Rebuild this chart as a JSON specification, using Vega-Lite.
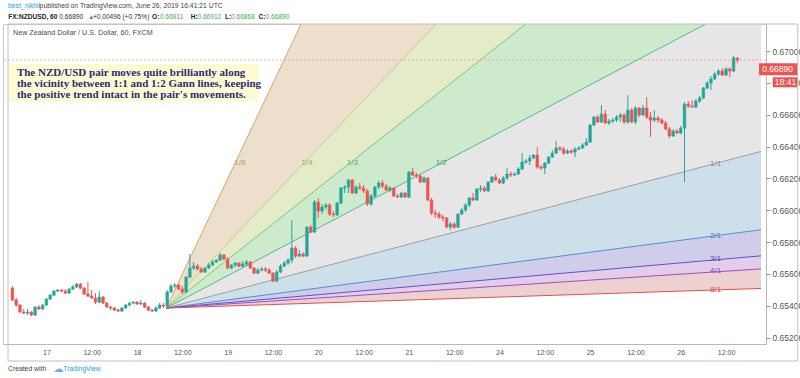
{
"$schema": "https://vega.github.io/schema/vega-lite/v6.json",
"width": 763, "height": 320,
"autosize": "none",
"padding": {"left": 3, "top": 24, "right": 34, "bottom": 34},
"background": "white",
"config": {"view": {"stroke": "#c8c8c8"}, "text": {"font": "Liberation Sans"}, "axisY": {"labelOverlap": false, "labelFlush": false}, "axisX": {"labelOverlap": false, "labelFlush": false}},
"resolve": {"scale": {"color": "independent"}},
"datasets": {
"candles": [
{"t":-9,"open":0.65511,"high":0.65524,"low":0.65430,"close":0.65436},
{"t":-8,"open":0.65436,"high":0.65449,"low":0.65392,"close":0.65405},
{"t":-7,"open":0.65405,"high":0.65411,"low":0.65354,"close":0.65361},
{"t":-6,"open":0.65361,"high":0.65380,"low":0.65348,"close":0.65354},
{"t":-5,"open":0.65354,"high":0.65380,"low":0.65342,"close":0.65361},
{"t":-4,"open":0.65361,"high":0.65367,"low":0.65336,"close":0.65342},
{"t":-3,"open":0.65342,"high":0.65398,"low":0.65336,"close":0.65392},
{"t":-2,"open":0.65392,"high":0.65405,"low":0.65373,"close":0.65380},
{"t":-1,"open":0.65380,"high":0.65411,"low":0.65373,"close":0.65405},
{"t":0,"open":0.65405,"high":0.65449,"low":0.65398,"close":0.65442},
{"t":1,"open":0.65442,"high":0.65474,"low":0.65436,"close":0.65467},
{"t":2,"open":0.65467,"high":0.65499,"low":0.65461,"close":0.65492},
{"t":3,"open":0.65492,"high":0.65505,"low":0.65486,"close":0.65499},
{"t":4,"open":0.65499,"high":0.65505,"low":0.65486,"close":0.65492},
{"t":5,"open":0.65492,"high":0.65505,"low":0.65474,"close":0.65480},
{"t":6,"open":0.65480,"high":0.65511,"low":0.65474,"close":0.65505},
{"t":7,"open":0.65505,"high":0.65530,"low":0.65499,"close":0.65518},
{"t":8,"open":0.65518,"high":0.65543,"low":0.65511,"close":0.65536},
{"t":9,"open":0.65536,"high":0.65543,"low":0.65505,"close":0.65511},
{"t":10,"open":0.65511,"high":0.65518,"low":0.65467,"close":0.65474},
{"t":11,"open":0.65474,"high":0.65549,"low":0.65455,"close":0.65461},
{"t":12,"open":0.65461,"high":0.65499,"low":0.65442,"close":0.65449},
{"t":13,"open":0.65449,"high":0.65480,"low":0.65411,"close":0.65423},
{"t":14,"open":0.65423,"high":0.65492,"low":0.65417,"close":0.65455},
{"t":15,"open":0.65455,"high":0.65461,"low":0.65411,"close":0.65417},
{"t":16,"open":0.65417,"high":0.65423,"low":0.65386,"close":0.65392},
{"t":17,"open":0.65392,"high":0.65398,"low":0.65373,"close":0.65386},
{"t":18,"open":0.65386,"high":0.65392,"low":0.65367,"close":0.65373},
{"t":19,"open":0.65373,"high":0.65380,"low":0.65361,"close":0.65367},
{"t":20,"open":0.65367,"high":0.65392,"low":0.65361,"close":0.65386},
{"t":21,"open":0.65386,"high":0.65411,"low":0.65380,"close":0.65405},
{"t":22,"open":0.65405,"high":0.65423,"low":0.65398,"close":0.65417},
{"t":23,"open":0.65417,"high":0.65430,"low":0.65411,"close":0.65423},
{"t":24,"open":0.65423,"high":0.65430,"low":0.65405,"close":0.65411},
{"t":25,"open":0.65411,"high":0.65436,"low":0.65405,"close":0.65417},
{"t":26,"open":0.65417,"high":0.65423,"low":0.65386,"close":0.65392},
{"t":27,"open":0.65392,"high":0.65398,"low":0.65367,"close":0.65373},
{"t":28,"open":0.65373,"high":0.65380,"low":0.65361,"close":0.65367},
{"t":29,"open":0.65367,"high":0.65398,"low":0.65361,"close":0.65386},
{"t":30,"open":0.65386,"high":0.65417,"low":0.65380,"close":0.65405},
{"t":31,"open":0.65405,"high":0.65417,"low":0.65386,"close":0.65398},
{"t":32,"open":0.65398,"high":0.65499,"low":0.65386,"close":0.65486},
{"t":33,"open":0.65486,"high":0.65536,"low":0.65480,"close":0.65524},
{"t":34,"open":0.65524,"high":0.65543,"low":0.65511,"close":0.65530},
{"t":35,"open":0.65530,"high":0.65536,"low":0.65499,"close":0.65505},
{"t":36,"open":0.65505,"high":0.65524,"low":0.65474,"close":0.65486},
{"t":37,"open":0.65486,"high":0.65587,"low":0.65480,"close":0.65580},
{"t":38,"open":0.65580,"high":0.65725,"low":0.65574,"close":0.65637},
{"t":39,"open":0.65637,"high":0.65675,"low":0.65624,"close":0.65649},
{"t":40,"open":0.65649,"high":0.65662,"low":0.65624,"close":0.65631},
{"t":41,"open":0.65631,"high":0.65643,"low":0.65605,"close":0.65612},
{"t":42,"open":0.65612,"high":0.65643,"low":0.65605,"close":0.65637},
{"t":43,"open":0.65637,"high":0.65668,"low":0.65631,"close":0.65656},
{"t":44,"open":0.65656,"high":0.65687,"low":0.65649,"close":0.65675},
{"t":45,"open":0.65675,"high":0.65693,"low":0.65668,"close":0.65687},
{"t":46,"open":0.65687,"high":0.65731,"low":0.65681,"close":0.65719},
{"t":47,"open":0.65719,"high":0.65725,"low":0.65687,"close":0.65693},
{"t":48,"open":0.65693,"high":0.65706,"low":0.65631,"close":0.65637},
{"t":49,"open":0.65637,"high":0.65662,"low":0.65631,"close":0.65656},
{"t":50,"open":0.65656,"high":0.65675,"low":0.65643,"close":0.65668},
{"t":51,"open":0.65668,"high":0.65675,"low":0.65643,"close":0.65649},
{"t":52,"open":0.65649,"high":0.65681,"low":0.65643,"close":0.65662},
{"t":53,"open":0.65662,"high":0.65687,"low":0.65649,"close":0.65675},
{"t":54,"open":0.65675,"high":0.65681,"low":0.65631,"close":0.65637},
{"t":55,"open":0.65637,"high":0.65643,"low":0.65599,"close":0.65605},
{"t":56,"open":0.65605,"high":0.65637,"low":0.65599,"close":0.65624},
{"t":57,"open":0.65624,"high":0.65643,"low":0.65618,"close":0.65631},
{"t":58,"open":0.65631,"high":0.65643,"low":0.65612,"close":0.65624},
{"t":59,"open":0.65624,"high":0.65637,"low":0.65599,"close":0.65605},
{"t":60,"open":0.65605,"high":0.65612,"low":0.65549,"close":0.65555},
{"t":61,"open":0.65555,"high":0.65624,"low":0.65549,"close":0.65612},
{"t":62,"open":0.65612,"high":0.65662,"low":0.65605,"close":0.65649},
{"t":63,"open":0.65649,"high":0.65681,"low":0.65643,"close":0.65668},
{"t":64,"open":0.65668,"high":0.65700,"low":0.65656,"close":0.65687},
{"t":65,"open":0.65687,"high":0.65938,"low":0.65668,"close":0.65762},
{"t":66,"open":0.65762,"high":0.65775,"low":0.65700,"close":0.65712},
{"t":67,"open":0.65712,"high":0.65750,"low":0.65706,"close":0.65725},
{"t":68,"open":0.65725,"high":0.65737,"low":0.65706,"close":0.65712},
{"t":69,"open":0.65712,"high":0.65901,"low":0.65706,"close":0.65894},
{"t":70,"open":0.65894,"high":0.65907,"low":0.65857,"close":0.65863},
{"t":71,"open":0.65863,"high":0.66064,"low":0.65857,"close":0.66051},
{"t":72,"open":0.66051,"high":0.66077,"low":0.65951,"close":0.65995},
{"t":73,"open":0.65995,"high":0.66039,"low":0.65976,"close":0.66020},
{"t":74,"open":0.66020,"high":0.66045,"low":0.66007,"close":0.66033},
{"t":75,"open":0.66033,"high":0.66045,"low":0.65963,"close":0.65976},
{"t":76,"open":0.65976,"high":0.65995,"low":0.65957,"close":0.65970},
{"t":77,"open":0.65970,"high":0.66051,"low":0.65963,"close":0.66045},
{"t":78,"open":0.66045,"high":0.66146,"low":0.66039,"close":0.66139},
{"t":79,"open":0.66139,"high":0.66158,"low":0.66108,"close":0.66146},
{"t":80,"open":0.66146,"high":0.66196,"low":0.66108,"close":0.66190},
{"t":81,"open":0.66190,"high":0.66196,"low":0.66102,"close":0.66108},
{"t":82,"open":0.66108,"high":0.66158,"low":0.66102,"close":0.66146},
{"t":83,"open":0.66146,"high":0.66171,"low":0.66127,"close":0.66139},
{"t":84,"open":0.66139,"high":0.66158,"low":0.66108,"close":0.66121},
{"t":85,"open":0.66121,"high":0.66133,"low":0.66026,"close":0.66039},
{"t":86,"open":0.66039,"high":0.66102,"low":0.66026,"close":0.66089},
{"t":87,"open":0.66089,"high":0.66152,"low":0.66077,"close":0.66146},
{"t":88,"open":0.66146,"high":0.66183,"low":0.66133,"close":0.66171},
{"t":89,"open":0.66171,"high":0.66190,"low":0.66139,"close":0.66152},
{"t":90,"open":0.66152,"high":0.66164,"low":0.66121,"close":0.66127},
{"t":91,"open":0.66127,"high":0.66152,"low":0.66114,"close":0.66139},
{"t":92,"open":0.66139,"high":0.66146,"low":0.66083,"close":0.66089},
{"t":93,"open":0.66089,"high":0.66102,"low":0.66077,"close":0.66083},
{"t":94,"open":0.66083,"high":0.66114,"low":0.66077,"close":0.66108},
{"t":95,"open":0.66108,"high":0.66114,"low":0.66077,"close":0.66083},
{"t":96,"open":0.66083,"high":0.66246,"low":0.66077,"close":0.66240},
{"t":97,"open":0.66240,"high":0.66265,"low":0.66215,"close":0.66221},
{"t":98,"open":0.66221,"high":0.66234,"low":0.66202,"close":0.66215},
{"t":99,"open":0.66215,"high":0.66227,"low":0.66171,"close":0.66177},
{"t":100,"open":0.66177,"high":0.66215,"low":0.66171,"close":0.66202},
{"t":101,"open":0.66202,"high":0.66208,"low":0.66058,"close":0.66064},
{"t":102,"open":0.66064,"high":0.66077,"low":0.65970,"close":0.65982},
{"t":103,"open":0.65982,"high":0.66001,"low":0.65951,"close":0.65976},
{"t":104,"open":0.65976,"high":0.65989,"low":0.65945,"close":0.65957},
{"t":105,"open":0.65957,"high":0.65970,"low":0.65932,"close":0.65951},
{"t":106,"open":0.65951,"high":0.65957,"low":0.65888,"close":0.65894},
{"t":107,"open":0.65894,"high":0.65926,"low":0.65876,"close":0.65913},
{"t":108,"open":0.65913,"high":0.65926,"low":0.65882,"close":0.65894},
{"t":109,"open":0.65894,"high":0.65982,"low":0.65888,"close":0.65976},
{"t":110,"open":0.65976,"high":0.66014,"low":0.65970,"close":0.66001},
{"t":111,"open":0.66001,"high":0.66045,"low":0.65989,"close":0.66033},
{"t":112,"open":0.66033,"high":0.66083,"low":0.66020,"close":0.66077},
{"t":113,"open":0.66077,"high":0.66108,"low":0.66058,"close":0.66064},
{"t":114,"open":0.66064,"high":0.66139,"low":0.66058,"close":0.66133},
{"t":115,"open":0.66133,"high":0.66158,"low":0.66114,"close":0.66139},
{"t":116,"open":0.66139,"high":0.66152,"low":0.66114,"close":0.66121},
{"t":117,"open":0.66121,"high":0.66183,"low":0.66114,"close":0.66177},
{"t":118,"open":0.66177,"high":0.66215,"low":0.66171,"close":0.66208},
{"t":119,"open":0.66208,"high":0.66227,"low":0.66183,"close":0.66190},
{"t":120,"open":0.66190,"high":0.66202,"low":0.66164,"close":0.66171},
{"t":121,"open":0.66171,"high":0.66215,"low":0.66164,"close":0.66202},
{"t":122,"open":0.66202,"high":0.66265,"low":0.66190,"close":0.66227},
{"t":123,"open":0.66227,"high":0.66246,"low":0.66208,"close":0.66221},
{"t":124,"open":0.66221,"high":0.66240,"low":0.66215,"close":0.66227},
{"t":125,"open":0.66227,"high":0.66271,"low":0.66221,"close":0.66259},
{"t":126,"open":0.66259,"high":0.66359,"low":0.66252,"close":0.66303},
{"t":127,"open":0.66303,"high":0.66321,"low":0.66290,"close":0.66309},
{"t":128,"open":0.66309,"high":0.66347,"low":0.66284,"close":0.66328},
{"t":129,"open":0.66328,"high":0.66353,"low":0.66321,"close":0.66347},
{"t":130,"open":0.66347,"high":0.66397,"low":0.66259,"close":0.66271},
{"t":131,"open":0.66271,"high":0.66284,"low":0.66252,"close":0.66265},
{"t":132,"open":0.66265,"high":0.66303,"low":0.66227,"close":0.66296},
{"t":133,"open":0.66296,"high":0.66340,"low":0.66290,"close":0.66334},
{"t":134,"open":0.66334,"high":0.66378,"low":0.66328,"close":0.66359},
{"t":135,"open":0.66359,"high":0.66435,"low":0.66353,"close":0.66391},
{"t":136,"open":0.66391,"high":0.66403,"low":0.66372,"close":0.66384},
{"t":137,"open":0.66384,"high":0.66397,"low":0.66347,"close":0.66359},
{"t":138,"open":0.66359,"high":0.66384,"low":0.66353,"close":0.66372},
{"t":139,"open":0.66372,"high":0.66384,"low":0.66353,"close":0.66365},
{"t":140,"open":0.66365,"high":0.66397,"low":0.66334,"close":0.66384},
{"t":141,"open":0.66384,"high":0.66403,"low":0.66378,"close":0.66391},
{"t":142,"open":0.66391,"high":0.66422,"low":0.66384,"close":0.66409},
{"t":143,"open":0.66409,"high":0.66453,"low":0.66403,"close":0.66428},
{"t":144,"open":0.66428,"high":0.66541,"low":0.66422,"close":0.66535},
{"t":145,"open":0.66535,"high":0.66592,"low":0.66529,"close":0.66585},
{"t":146,"open":0.66585,"high":0.66598,"low":0.66548,"close":0.66554},
{"t":147,"open":0.66554,"high":0.66661,"low":0.66548,"close":0.66604},
{"t":148,"open":0.66604,"high":0.66629,"low":0.66541,"close":0.66548},
{"t":149,"open":0.66548,"high":0.66573,"low":0.66535,"close":0.66560},
{"t":150,"open":0.66560,"high":0.66579,"low":0.66548,"close":0.66566},
{"t":151,"open":0.66566,"high":0.66598,"low":0.66554,"close":0.66585},
{"t":152,"open":0.66585,"high":0.66610,"low":0.66554,"close":0.66598},
{"t":153,"open":0.66598,"high":0.66610,"low":0.66541,"close":0.66554},
{"t":154,"open":0.66554,"high":0.66723,"low":0.66541,"close":0.66629},
{"t":155,"open":0.66629,"high":0.66642,"low":0.66548,"close":0.66554},
{"t":156,"open":0.66554,"high":0.66654,"low":0.66541,"close":0.66642},
{"t":157,"open":0.66642,"high":0.66648,"low":0.66585,"close":0.66598},
{"t":158,"open":0.66598,"high":0.66661,"low":0.66592,"close":0.66642},
{"t":159,"open":0.66642,"high":0.66711,"low":0.66573,"close":0.66585},
{"t":160,"open":0.66585,"high":0.66617,"low":0.66460,"close":0.66566},
{"t":161,"open":0.66566,"high":0.66629,"low":0.66554,"close":0.66579},
{"t":162,"open":0.66579,"high":0.66592,"low":0.66548,"close":0.66566},
{"t":163,"open":0.66566,"high":0.66579,"low":0.66541,"close":0.66548},
{"t":164,"open":0.66548,"high":0.66560,"low":0.66504,"close":0.66510},
{"t":165,"open":0.66510,"high":0.66522,"low":0.66453,"close":0.66466},
{"t":166,"open":0.66466,"high":0.66510,"low":0.66460,"close":0.66497},
{"t":167,"open":0.66497,"high":0.66510,"low":0.66478,"close":0.66485},
{"t":168,"open":0.66485,"high":0.66529,"low":0.66478,"close":0.66516},
{"t":169,"open":0.66516,"high":0.66679,"low":0.66177,"close":0.66667},
{"t":170,"open":0.66667,"high":0.66686,"low":0.66642,"close":0.66654},
{"t":171,"open":0.66654,"high":0.66692,"low":0.66642,"close":0.66648},
{"t":172,"open":0.66648,"high":0.66698,"low":0.66642,"close":0.66686},
{"t":173,"open":0.66686,"high":0.66717,"low":0.66673,"close":0.66705},
{"t":174,"open":0.66705,"high":0.66774,"low":0.66698,"close":0.66767},
{"t":175,"open":0.66767,"high":0.66811,"low":0.66761,"close":0.66799},
{"t":176,"open":0.66799,"high":0.66843,"low":0.66755,"close":0.66824},
{"t":177,"open":0.66824,"high":0.66868,"low":0.66818,"close":0.66855},
{"t":178,"open":0.66855,"high":0.66887,"low":0.66843,"close":0.66874},
{"t":179,"open":0.66874,"high":0.66893,"low":0.66843,"close":0.66849},
{"t":180,"open":0.66849,"high":0.66899,"low":0.66843,"close":0.66887},
{"t":181,"open":0.66887,"high":0.66899,"low":0.66836,"close":0.66874},
{"t":182,"open":0.66874,"high":0.66968,"low":0.66868,"close":0.66956},
{"t":183,"open":0.66956,"high":0.66962,"low":0.66924,"close":0.66943}
],
"fanAreas": [
{"zone":"A","t":31.75,"lo":0.65386,"hi":0.65386},{"zone":"A","t":189.26,"lo":0.69319,"hi":0.73252},
{"zone":"B","t":31.75,"lo":0.65386,"hi":0.65386},{"zone":"B","t":189.26,"lo":0.68336,"hi":0.69319},
{"zone":"C","t":31.75,"lo":0.65386,"hi":0.65386},{"zone":"C","t":189.26,"lo":0.673525,"hi":0.68336},
{"zone":"D","t":31.75,"lo":0.65386,"hi":0.65386},{"zone":"D","t":189.26,"lo":0.663693,"hi":0.673525},
{"zone":"E","t":31.75,"lo":0.65386,"hi":0.65386},{"zone":"E","t":189.26,"lo":0.658776,"hi":0.663693},
{"zone":"F","t":31.75,"lo":0.65386,"hi":0.65386},{"zone":"F","t":189.26,"lo":0.657137,"hi":0.658776},
{"zone":"G","t":31.75,"lo":0.65386,"hi":0.65386},{"zone":"G","t":189.26,"lo":0.656318,"hi":0.657137},
{"zone":"H","t":31.75,"lo":0.65386,"hi":0.65386},{"zone":"H","t":189.26,"lo":0.655089,"hi":0.656318}
],
"fanLines": [
{"line":"1/8","t":31.75,"p":0.65386},{"line":"1/8","t":189.26,"p":0.73252},
{"line":"1/4","t":31.75,"p":0.65386},{"line":"1/4","t":189.26,"p":0.69319},
{"line":"1/3","t":31.75,"p":0.65386},{"line":"1/3","t":189.26,"p":0.68336},
{"line":"1/2","t":31.75,"p":0.65386},{"line":"1/2","t":189.26,"p":0.673525},
{"line":"1/1","t":31.75,"p":0.65386},{"line":"1/1","t":189.26,"p":0.663693},
{"line":"2/1","t":31.75,"p":0.65386},{"line":"2/1","t":189.26,"p":0.658776},
{"line":"3/1","t":31.75,"p":0.65386},{"line":"3/1","t":189.26,"p":0.657137},
{"line":"4/1","t":31.75,"p":0.65386},{"line":"4/1","t":189.26,"p":0.656318},
{"line":"8/1","t":31.75,"p":0.65386},{"line":"8/1","t":189.26,"p":0.655089}
]
},
"layer": [
{"data": {"name": "fanAreas"},
 "mark": {"type": "area", "clip": true},
 "encoding": {
  "x": {"field": "t", "type": "quantitative", "title": null, "scale": {"domain": [-10.17, 189.26], "nice": false, "zero": false},
   "axis": {"values": [0,12,24,36,48,60,72,84,96,108,120,132,144,156,168,180], "labelExpr": "datum.value % 24 == 12 ? '12:00' : ['17','18','19','20','21','24','25','26'][floor(datum.value / 24)]", "grid": false, "ticks": false, "domainColor": "#b8b8b8", "labelColor": "#555555", "labelFontSize": 7, "labelFont": "Liberation Sans", "labelPadding": 4, "labelOverlap": false, "labelFlush": false, "title": null}},
  "y": {"field": "lo", "type": "quantitative", "title": null, "stack": null, "scale": {"domain": [0.651601, 0.671696], "nice": false, "zero": false},
   "axis": {"orient": "right", "values": [0.652,0.654,0.656,0.658,0.66,0.662,0.664,0.666,0.668,0.67], "format": ".5f", "grid": false, "tickSize": 4, "tickColor": "#9a9a9a", "domainColor": "#b8b8b8", "labelColor": "#555555", "labelFontSize": 8.5, "labelFont": "Liberation Sans", "labelPadding": 2, "labelOverlap": false, "title": null}},
  "y2": {"field": "hi"},
  "color": {"field": "zone", "type": "nominal", "legend": null,
   "scale": {"domain": ["A","B","C","D","E","F","G","H"], "range": ["#ecdfcc","#e4ebc9","#cdeacd","#e6e6e6","#cde0ea","#d0cdeb","#e3cdea","#edd1d1"]}}
 }},
{"data": {"values": [{}]},
 "mark": {"type": "rule", "color": "#f29a9a", "strokeDash": [2, 2], "strokeWidth": 1, "opacity": 0.8},
 "encoding": {"y": {"datum": 0.66944, "type": "quantitative", "title": null, "axis": {"orient": "right", "values": [0.652,0.654,0.656,0.658,0.66,0.662,0.664,0.666,0.668,0.67], "format": ".5f", "grid": false, "tickSize": 4, "tickColor": "#9a9a9a", "domainColor": "#b8b8b8", "labelColor": "#555555", "labelFontSize": 8.5, "labelFont": "Liberation Sans", "labelPadding": 2, "labelOverlap": false, "title": null}}}},
{"data": {"name": "fanLines"},
 "mark": {"type": "line", "clip": true, "strokeWidth": 1},
 "encoding": {
  "x": {"field": "t", "type": "quantitative", "title": null},
  "y": {"field": "p", "type": "quantitative", "title": null, "axis": {"orient": "right", "values": [0.652,0.654,0.656,0.658,0.66,0.662,0.664,0.666,0.668,0.67], "format": ".5f", "grid": false, "tickSize": 4, "tickColor": "#9a9a9a", "domainColor": "#b8b8b8", "labelColor": "#555555", "labelFontSize": 8.5, "labelFont": "Liberation Sans", "labelPadding": 2, "labelOverlap": false, "title": null}},
  "color": {"field": "line", "type": "nominal", "legend": null,
   "scale": {"domain": ["1/8","1/4","1/3","1/2","1/1","2/1","3/1","4/1","8/1"], "range": ["#d6a56c","#c3cc78","#7cc47a","#55b58f","#9e9e9e","#4f8fcb","#5b50cf","#a04cbf","#e0524f"]}}
 }},
{"data": {"values": [{"x1": -9.9, "x2": 56.2, "y1": 0.669184, "y2": 0.666816}]},
 "mark": {"type": "rect", "fill": "#fdfbd2"},
 "encoding": {
  "x": {"field": "x1", "type": "quantitative", "title": null},
  "x2": {"field": "x2"},
  "y": {"field": "y1", "type": "quantitative", "title": null, "axis": {"orient": "right", "values": [0.652,0.654,0.656,0.658,0.66,0.662,0.664,0.666,0.668,0.67], "format": ".5f", "grid": false, "tickSize": 4, "tickColor": "#9a9a9a", "domainColor": "#b8b8b8", "labelColor": "#555555", "labelFontSize": 8.5, "labelFont": "Liberation Sans", "labelPadding": 2, "labelOverlap": false, "title": null}},
  "y2": {"field": "y2"}
 }},
{"data": {"values": [
  {"t": -7.81, "p": 0.668618, "txt": "The NZD/USD pair moves quite brilliantly along"},
  {"t": -7.81, "p": 0.667927, "txt": "the vicinity between 1:1 and 1:2 Gann lines, keeping"},
  {"t": -7.81, "p": 0.667268, "txt": "the positive trend intact in the pair's movements."}]},
 "mark": {"type": "text", "align": "left", "baseline": "middle", "font": "Liberation Serif", "fontWeight": "bold", "fontSize": 11, "color": "#2f2a74"},
 "encoding": {
  "x": {"field": "t", "type": "quantitative", "title": null},
  "y": {"field": "p", "type": "quantitative", "title": null, "axis": {"orient": "right", "values": [0.652,0.654,0.656,0.658,0.66,0.662,0.664,0.666,0.668,0.67], "format": ".5f", "grid": false, "tickSize": 4, "tickColor": "#9a9a9a", "domainColor": "#b8b8b8", "labelColor": "#555555", "labelFontSize": 8.5, "labelFont": "Liberation Sans", "labelPadding": 2, "labelOverlap": false, "title": null}},
  "text": {"field": "txt"}
 }},
{"data": {"name": "candles"},
 "mark": {"type": "rule", "strokeWidth": 1},
 "encoding": {
  "x": {"field": "t", "type": "quantitative", "title": null},
  "y": {"field": "low", "type": "quantitative", "title": null, "axis": {"orient": "right", "values": [0.652,0.654,0.656,0.658,0.66,0.662,0.664,0.666,0.668,0.67], "format": ".5f", "grid": false, "tickSize": 4, "tickColor": "#9a9a9a", "domainColor": "#b8b8b8", "labelColor": "#555555", "labelFontSize": 8.5, "labelFont": "Liberation Sans", "labelPadding": 2, "labelOverlap": false, "title": null}},
  "y2": {"field": "high"},
  "color": {"condition": {"test": "datum.close >= datum.open", "value": "#26a69a"}, "value": "#ef5350"}
 }},
{"data": {"name": "candles"},
 "mark": {"type": "bar", "size": 2.6, "strokeWidth": 0.6},
 "encoding": {
  "x": {"field": "t", "type": "quantitative", "title": null},
  "y": {"field": "open", "type": "quantitative", "title": null, "axis": {"orient": "right", "values": [0.652,0.654,0.656,0.658,0.66,0.662,0.664,0.666,0.668,0.67], "format": ".5f", "grid": false, "tickSize": 4, "tickColor": "#9a9a9a", "domainColor": "#b8b8b8", "labelColor": "#555555", "labelFontSize": 8.5, "labelFont": "Liberation Sans", "labelPadding": 2, "labelOverlap": false, "title": null}},
  "y2": {"field": "close"},
  "color": {"condition": {"test": "datum.close >= datum.open", "value": "#26a69a"}, "value": "#ef5350"},
  "stroke": {"condition": {"test": "datum.close >= datum.open", "value": "#26a69a"}, "value": "#ef5350"}
 }},
{"data": {"values": [
  {"t": 51.25, "p": 0.66296, "label": "1/8"},
  {"t": 69.03, "p": 0.66296, "label": "1/4"},
  {"t": 81.05, "p": 0.66296, "label": "1/3"},
  {"t": 104.57, "p": 0.66296, "label": "1/2"},
  {"t": 177.23, "p": 0.66290, "label": "1/1"},
  {"t": 177.23, "p": 0.658383, "label": "2/1"},
  {"t": 177.23, "p": 0.656939, "label": "3/1"},
  {"t": 177.23, "p": 0.656185, "label": "4/1"},
  {"t": 177.23, "p": 0.654992, "label": "8/1"}]},
 "mark": {"type": "text", "align": "center", "baseline": "middle", "fontSize": 8, "font": "Liberation Sans"},
 "encoding": {
  "x": {"field": "t", "type": "quantitative", "title": null},
  "y": {"field": "p", "type": "quantitative", "title": null, "axis": {"orient": "right", "values": [0.652,0.654,0.656,0.658,0.66,0.662,0.664,0.666,0.668,0.67], "format": ".5f", "grid": false, "tickSize": 4, "tickColor": "#9a9a9a", "domainColor": "#b8b8b8", "labelColor": "#555555", "labelFontSize": 8.5, "labelFont": "Liberation Sans", "labelPadding": 2, "labelOverlap": false, "title": null}},
  "text": {"field": "label"},
  "color": {"field": "label", "type": "nominal", "legend": null,
   "scale": {"domain": ["1/8","1/4","1/3","1/2","1/1","2/1","3/1","4/1","8/1"], "range": ["#c29a5e","#a2ae48","#56b356","#3f9f80","#8a8a8a","#3f7fbf","#5045c0","#9040b0","#d04848"]}}
 }},
{"data": {"values": [
  {"t": -10.17, "p": 0.672826, "txt": "best_nikhil", "role": "user"},
  {"t": -1.8, "p": 0.672826, "txt": "published on TradingView.com, June 26, 2019 16:41:21 UTC", "role": "plain"},
  {"t": -10.17, "p": 0.650031, "txt": "Created with", "role": "plain"},
  {"t": 4.47, "p": 0.650031, "txt": "TradingView", "role": "user"}]},
 "mark": {"type": "text", "align": "left", "baseline": "middle", "font": "Liberation Sans", "fontSize": 6.8},
 "encoding": {
  "x": {"field": "t", "type": "quantitative", "title": null},
  "y": {"field": "p", "type": "quantitative", "title": null, "axis": {"orient": "right", "values": [0.652,0.654,0.656,0.658,0.66,0.662,0.664,0.666,0.668,0.67], "format": ".5f", "grid": false, "tickSize": 4, "tickColor": "#9a9a9a", "domainColor": "#b8b8b8", "labelColor": "#555555", "labelFontSize": 8.5, "labelFont": "Liberation Sans", "labelPadding": 2, "labelOverlap": false, "title": null}},
  "text": {"field": "txt"},
  "color": {"field": "role", "type": "nominal", "legend": null, "scale": {"domain": ["user","plain"], "range": ["#2e9be6","#444444"]}}
 }},
{"data": {"values": [{"t": 1.85, "p": 0.650031, "txt": "☁"}]},
 "mark": {"type": "text", "align": "left", "baseline": "middle", "font": "DejaVu Sans", "fontSize": 10, "color": "#5fb3e6"},
 "encoding": {
  "x": {"field": "t", "type": "quantitative", "title": null},
  "y": {"field": "p", "type": "quantitative", "title": null, "axis": {"orient": "right", "values": [0.652,0.654,0.656,0.658,0.66,0.662,0.664,0.666,0.668,0.67], "format": ".5f", "grid": false, "tickSize": 4, "tickColor": "#9a9a9a", "domainColor": "#b8b8b8", "labelColor": "#555555", "labelFontSize": 8.5, "labelFont": "Liberation Sans", "labelPadding": 2, "labelOverlap": false, "title": null}},
  "text": {"field": "txt"}
 }},
{"data": {"values": [
  {"t": 3.42, "p": 0.672135, "txt": "0.66890", "role": "plain"},
  {"t": 11.0, "p": 0.672135, "txt": "▲", "role": "up"},
  {"t": 12.31, "p": 0.672135, "txt": "+0.00496 (+0.75%)", "role": "plain"},
  {"t": 30.08, "p": 0.672135, "txt": "0.66911", "role": "up"},
  {"t": 40.0, "p": 0.672135, "txt": "0.66912", "role": "up"},
  {"t": 48.9, "p": 0.672135, "txt": "0.66868", "role": "up"},
  {"t": 58.05, "p": 0.672135, "txt": "0.66890", "role": "up"}]},
 "mark": {"type": "text", "align": "left", "baseline": "middle", "font": "Liberation Sans", "fontSize": 6.6},
 "encoding": {
  "x": {"field": "t", "type": "quantitative", "title": null},
  "y": {"field": "p", "type": "quantitative", "title": null, "axis": {"orient": "right", "values": [0.652,0.654,0.656,0.658,0.66,0.662,0.664,0.666,0.668,0.67], "format": ".5f", "grid": false, "tickSize": 4, "tickColor": "#9a9a9a", "domainColor": "#b8b8b8", "labelColor": "#555555", "labelFontSize": 8.5, "labelFont": "Liberation Sans", "labelPadding": 2, "labelOverlap": false, "title": null}},
  "text": {"field": "txt"},
  "color": {"field": "role", "type": "nominal", "legend": null, "scale": {"domain": ["plain","up"], "range": ["#333333","#3fae49"]}}
 }},
{"data": {"values": [
  {"t": -10.09, "p": 0.672135, "txt": "FX:NZDUSD, 60"},
  {"t": 28.0, "p": 0.672135, "txt": "O:"},
  {"t": 38.2, "p": 0.672135, "txt": "H:"},
  {"t": 47.3, "p": 0.672135, "txt": "L:"},
  {"t": 56.2, "p": 0.672135, "txt": "C:"}]},
 "mark": {"type": "text", "align": "left", "baseline": "middle", "font": "Liberation Sans", "fontWeight": "bold", "fontSize": 6.6, "color": "#222222"},
 "encoding": {
  "x": {"field": "t", "type": "quantitative", "title": null},
  "y": {"field": "p", "type": "quantitative", "title": null, "axis": {"orient": "right", "values": [0.652,0.654,0.656,0.658,0.66,0.662,0.664,0.666,0.668,0.67], "format": ".5f", "grid": false, "tickSize": 4, "tickColor": "#9a9a9a", "domainColor": "#b8b8b8", "labelColor": "#555555", "labelFontSize": 8.5, "labelFont": "Liberation Sans", "labelPadding": 2, "labelOverlap": false, "title": null}},
  "text": {"field": "txt"}
 }},
{"data": {"values": [{"t": -8.86, "p": 0.67113, "txt": "New Zealand Dollar / U.S. Dollar, 60, FXCM"}]},
 "mark": {"type": "text", "align": "left", "baseline": "middle", "font": "Liberation Sans", "fontSize": 7.2, "color": "#4a4a4a"},
 "encoding": {
  "x": {"field": "t", "type": "quantitative", "title": null},
  "y": {"field": "p", "type": "quantitative", "title": null, "axis": {"orient": "right", "values": [0.652,0.654,0.656,0.658,0.66,0.662,0.664,0.666,0.668,0.67], "format": ".5f", "grid": false, "tickSize": 4, "tickColor": "#9a9a9a", "domainColor": "#b8b8b8", "labelColor": "#555555", "labelFontSize": 8.5, "labelFont": "Liberation Sans", "labelPadding": 2, "labelOverlap": false, "title": null}},
  "text": {"field": "txt"}
 }},
{"data": {"values": [
  {"x1": 188.74, "x2": 199, "y1": 0.669228, "y2": 0.668474},
  {"x1": 192.4, "x2": 199, "y1": 0.668348, "y2": 0.66772}]},
 "mark": {"type": "rect", "fill": "#ef5350"},
 "encoding": {
  "x": {"field": "x1", "type": "quantitative", "title": null},
  "x2": {"field": "x2"},
  "y": {"field": "y1", "type": "quantitative", "title": null, "axis": {"orient": "right", "values": [0.652,0.654,0.656,0.658,0.66,0.662,0.664,0.666,0.668,0.67], "format": ".5f", "grid": false, "tickSize": 4, "tickColor": "#9a9a9a", "domainColor": "#b8b8b8", "labelColor": "#555555", "labelFontSize": 8.5, "labelFont": "Liberation Sans", "labelPadding": 2, "labelOverlap": false, "title": null}},
  "y2": {"field": "y2"}
 }},
{"data": {"values": [
  {"t": 189.6, "p": 0.668851, "txt": "0.66890"},
  {"t": 192.93, "p": 0.668035, "txt": "18:41"}]},
 "mark": {"type": "text", "align": "left", "baseline": "middle", "font": "Liberation Sans", "fontSize": 8.5, "color": "white"},
 "encoding": {
  "x": {"field": "t", "type": "quantitative", "title": null},
  "y": {"field": "p", "type": "quantitative", "title": null, "axis": {"orient": "right", "values": [0.652,0.654,0.656,0.658,0.66,0.662,0.664,0.666,0.668,0.67], "format": ".5f", "grid": false, "tickSize": 4, "tickColor": "#9a9a9a", "domainColor": "#b8b8b8", "labelColor": "#555555", "labelFontSize": 8.5, "labelFont": "Liberation Sans", "labelPadding": 2, "labelOverlap": false, "title": null}},
  "text": {"field": "txt"}
 }},
{"data": {"values": [{"x1": -10.17, "x2": 199, "y1": 0.671696, "y2": 0.650534}]},
 "mark": {"type": "rect", "fill": null, "fillOpacity": 0, "stroke": "#c0c0c0", "strokeWidth": 1},
 "encoding": {
  "x": {"field": "x1", "type": "quantitative", "title": null},
  "x2": {"field": "x2"},
  "y": {"field": "y1", "type": "quantitative", "title": null, "axis": {"orient": "right", "values": [0.652,0.654,0.656,0.658,0.66,0.662,0.664,0.666,0.668,0.67], "format": ".5f", "grid": false, "tickSize": 4, "tickColor": "#9a9a9a", "domainColor": "#b8b8b8", "labelColor": "#555555", "labelFontSize": 8.5, "labelFont": "Liberation Sans", "labelPadding": 2, "labelOverlap": false, "title": null}},
  "y2": {"field": "y2"}
 }}
]
}
